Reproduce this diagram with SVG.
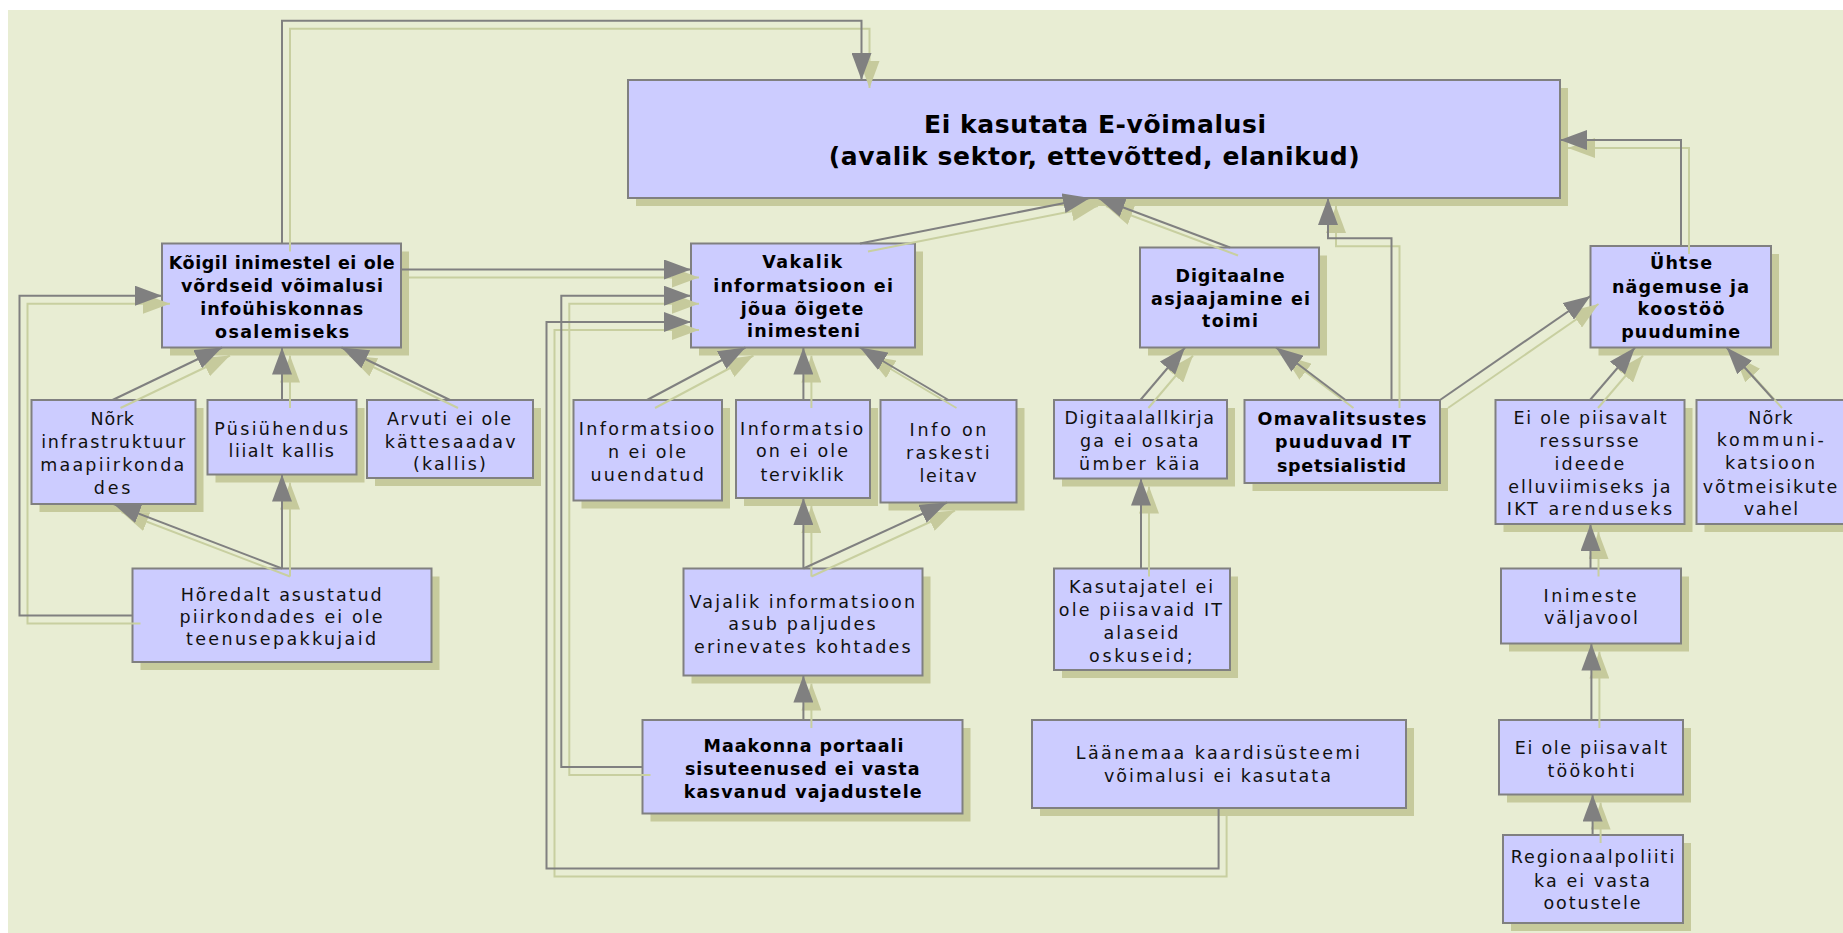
<svg xmlns="http://www.w3.org/2000/svg" width="1843" height="933" viewBox="0 0 1843 933">
<defs>
<style>
.box{fill:#CCCCFF;stroke:#808080;stroke-width:2}
.shd{fill:#C6CA9C}
.t{font-family:"DejaVu Sans","Liberation Sans",sans-serif;font-size:17.5px;fill:#111;text-anchor:middle}
.b{font-family:"DejaVu Sans","Liberation Sans",sans-serif;font-size:17.5px;font-weight:bold;fill:#000;text-anchor:middle}
.ti{font-family:"DejaVu Sans","Liberation Sans",sans-serif;font-size:25px;font-weight:bold;fill:#000;text-anchor:middle}
.c{fill:none;stroke:#808080;stroke-width:2;marker-end:url(#ah)}
.cs{fill:none;stroke:#C8CFA0;stroke-width:2;marker-end:url(#ahs)}
</style>
<marker id="ah" viewBox="0 0 27 20" refX="27" refY="10" markerWidth="27" markerHeight="20" markerUnits="userSpaceOnUse" orient="auto"><path d="M0,0 L27,10 L0,20 z" fill="#808080"/></marker>
<marker id="ahs" viewBox="0 0 27 20" refX="27" refY="10" markerWidth="27" markerHeight="20" markerUnits="userSpaceOnUse" orient="auto"><path d="M0,0 L27,10 L0,20 z" fill="#C6CA9C"/></marker>
</defs>
<rect x="0" y="0" width="1843" height="933" fill="#FFFFFF"/>
<rect x="8" y="10" width="1835" height="923" fill="#E8EDD3"/>

<g id="n-main">
<rect class="shd" x="636" y="88" width="932" height="118"/>
<rect class="box" x="628" y="80" width="932" height="118"/>
<text class="ti" x="1095" y="133" textLength="342" lengthAdjust="spacing">Ei kasutata E-võimalusi</text>
<text class="ti" x="1094.3" y="165" textLength="531" lengthAdjust="spacing">(avalik sektor, ettevõtted, elanikud)</text>
</g>

<g id="n-koigil">
<rect class="shd" x="170" y="251.5" width="239" height="104"/>
<rect class="box" x="162" y="243.5" width="239" height="104"/>
<text class="b" x="281.7" y="269" textLength="226" lengthAdjust="spacing">Kõigil inimestel ei ole</text>
<text class="b" x="281.9" y="292" textLength="202" lengthAdjust="spacing">võrdseid võimalusi</text>
<text class="b" x="281.7" y="315" textLength="163" lengthAdjust="spacing">infoühiskonnas</text>
<text class="b" x="282.1" y="337.5" textLength="134" lengthAdjust="spacing">osalemiseks</text>
</g>

<g id="n-vakalik">
<rect class="shd" x="699" y="251.5" width="224" height="104"/>
<rect class="box" x="691" y="243.5" width="224" height="104"/>
<text class="b" x="802.2" y="268.3" textLength="80" lengthAdjust="spacing">Vakalik</text>
<text class="b" x="803.1" y="291.7" textLength="179.6" lengthAdjust="spacing">informatsioon ei</text>
<text class="b" x="802" y="315" textLength="122.5" lengthAdjust="spacing">jõua õigete</text>
<text class="b" x="803.6" y="337.3" textLength="113" lengthAdjust="spacing">inimesteni</text>
</g>

<g id="n-digitaalne">
<rect class="shd" x="1148" y="255.5" width="179" height="100"/>
<rect class="box" x="1140" y="247.5" width="179" height="100"/>
<text class="b" x="1230" y="281.7" textLength="109" lengthAdjust="spacing">Digitaalne</text>
<text class="b" x="1230.6" y="305" textLength="159" lengthAdjust="spacing">asjaajamine ei</text>
<text class="b" x="1230" y="327.3" textLength="56" lengthAdjust="spacing">toimi</text>
</g>

<g id="n-uhtse">
<rect class="shd" x="1598.5" y="254" width="180.5" height="101.5"/>
<rect class="box" x="1590.5" y="246" width="180.5" height="101.5"/>
<text class="b" x="1681" y="269.3" textLength="62" lengthAdjust="spacing">Ühtse</text>
<text class="b" x="1680.5" y="292.7" textLength="137" lengthAdjust="spacing">nägemuse ja</text>
<text class="b" x="1681" y="315.3" textLength="87" lengthAdjust="spacing">koostöö</text>
<text class="b" x="1680.7" y="338.3" textLength="119" lengthAdjust="spacing">puudumine</text>
</g>

<g id="n-nork-infra">
<rect class="shd" x="39.5" y="408" width="164" height="104"/>
<rect class="box" x="31.5" y="400" width="164" height="104"/>
<text class="t" x="112.3" y="425" textLength="43.4" lengthAdjust="spacing">Nõrk</text>
<text class="t" x="113.2" y="448" textLength="144" lengthAdjust="spacing">infrastruktuur</text>
<text class="t" x="112.2" y="471" textLength="144" lengthAdjust="spacing">maapiirkonda</text>
<text class="t" x="112.1" y="493.6" textLength="36.6" lengthAdjust="spacing">des</text>
</g>

<g id="n-pusi">
<rect class="shd" x="215.5" y="408" width="149" height="74.5"/>
<rect class="box" x="207.5" y="400" width="149" height="74.5"/>
<text class="t" x="281.2" y="434.7" textLength="134" lengthAdjust="spacing">Püsiühendus</text>
<text class="t" x="281.3" y="457" textLength="105.4" lengthAdjust="spacing">liialt kallis</text>
</g>

<g id="n-arvuti">
<rect class="shd" x="375" y="408" width="166" height="78"/>
<rect class="box" x="367" y="400" width="166" height="78"/>
<text class="t" x="449" y="425" textLength="124" lengthAdjust="spacing">Arvuti ei ole</text>
<text class="t" x="450.2" y="447.5" textLength="130.8" lengthAdjust="spacing">kättesaadav</text>
<text class="t" x="449.4" y="470" textLength="72.7" lengthAdjust="spacing">(kallis)</text>
</g>

<g id="n-uuendatud">
<rect class="shd" x="581.5" y="408" width="148.5" height="100.5"/>
<rect class="box" x="573.5" y="400" width="148.5" height="100.5"/>
<text class="t" x="646.5" y="435.4" textLength="135.3" lengthAdjust="spacing">Informatsioo</text>
<text class="t" x="647" y="457.6" textLength="78" lengthAdjust="spacing">n ei ole</text>
<text class="t" x="647.1" y="480.5" textLength="113.4" lengthAdjust="spacing">uuendatud</text>
</g>

<g id="n-terviklik">
<rect class="shd" x="744" y="408" width="134" height="98"/>
<rect class="box" x="736" y="400" width="134" height="98"/>
<text class="t" x="801.6" y="434.7" textLength="123" lengthAdjust="spacing">Informatsio</text>
<text class="t" x="802" y="456.9" textLength="92" lengthAdjust="spacing">on ei ole</text>
<text class="t" x="802" y="480.5" textLength="83" lengthAdjust="spacing">terviklik</text>
</g>

<g id="n-raskesti">
<rect class="shd" x="888.5" y="408" width="136" height="102.5"/>
<rect class="box" x="880.5" y="400" width="136" height="102.5"/>
<text class="t" x="948" y="436.4" textLength="76.8" lengthAdjust="spacing">Info on</text>
<text class="t" x="947.8" y="459.4" textLength="83.5" lengthAdjust="spacing">raskesti</text>
<text class="t" x="948" y="482.3" textLength="57" lengthAdjust="spacing">leitav</text>
</g>

<g id="n-digiallkiri">
<rect class="shd" x="1062" y="408" width="173" height="78.5"/>
<rect class="box" x="1054" y="400" width="173" height="78.5"/>
<text class="t" x="1139.3" y="424" textLength="149.5" lengthAdjust="spacing">Digitaalallkirja</text>
<text class="t" x="1139.3" y="447" textLength="118.5" lengthAdjust="spacing">ga ei osata</text>
<text class="t" x="1139.2" y="470" textLength="120.4" lengthAdjust="spacing">ümber käia</text>
</g>

<g id="n-omav">
<rect class="shd" x="1252.5" y="408" width="195.5" height="83"/>
<rect class="box" x="1244.5" y="400" width="195.5" height="83"/>
<text class="b" x="1342" y="425" textLength="169" lengthAdjust="spacing">Omavalitsustes</text>
<text class="b" x="1343" y="448.3" textLength="136" lengthAdjust="spacing">puuduvad IT</text>
<text class="b" x="1341.5" y="471.7" textLength="129" lengthAdjust="spacing">spetsialistid</text>
</g>

<g id="n-ressursse">
<rect class="shd" x="1503.5" y="408" width="189" height="124"/>
<rect class="box" x="1495.5" y="400" width="189" height="124"/>
<text class="t" x="1590" y="424" textLength="153" lengthAdjust="spacing">Ei ole piisavalt</text>
<text class="t" x="1589" y="446.7" textLength="99" lengthAdjust="spacing">ressursse</text>
<text class="t" x="1589.4" y="469.7" textLength="69.7" lengthAdjust="spacing">ideede</text>
<text class="t" x="1589.4" y="492.7" textLength="162.3" lengthAdjust="spacing">elluviimiseks ja</text>
<text class="t" x="1589.4" y="515.3" textLength="165.5" lengthAdjust="spacing">IKT arenduseks</text>
</g>

<g id="n-nork-komm">
<rect class="shd" x="1704.5" y="408" width="160" height="124"/>
<rect class="box" x="1696.5" y="400" width="160" height="124"/>
<text class="t" x="1770.5" y="423.5" textLength="44.4" lengthAdjust="spacing">Nõrk</text>
<text class="t" x="1770.3" y="446" textLength="107.3" lengthAdjust="spacing">kommuni-</text>
<text class="t" x="1770" y="469.2" textLength="90" lengthAdjust="spacing">katsioon</text>
<text class="t" x="1770" y="492.5" textLength="134.6" lengthAdjust="spacing">võtmeisikute</text>
<text class="t" x="1771" y="515.2" textLength="54.3" lengthAdjust="spacing">vahel</text>
</g>

<g id="n-horedalt">
<rect class="shd" x="140.5" y="576.5" width="299" height="93.5"/>
<rect class="box" x="132.5" y="568.5" width="299" height="93.5"/>
<text class="t" x="281.2" y="600.5" textLength="201" lengthAdjust="spacing">Hõredalt asustatud</text>
<text class="t" x="281" y="623.4" textLength="203" lengthAdjust="spacing">piirkondades ei ole</text>
<text class="t" x="281" y="645" textLength="190" lengthAdjust="spacing">teenusepakkujaid</text>
</g>

<g id="n-vajalik">
<rect class="shd" x="691.5" y="576.5" width="239" height="107"/>
<rect class="box" x="683.5" y="568.5" width="239" height="107"/>
<text class="t" x="802.3" y="607.5" textLength="225.4" lengthAdjust="spacing">Vajalik informatsioon</text>
<text class="t" x="802" y="629.7" textLength="147.3" lengthAdjust="spacing">asub paljudes</text>
<text class="t" x="802.3" y="652.7" textLength="216.5" lengthAdjust="spacing">erinevates kohtades</text>
</g>

<g id="n-kasutajatel">
<rect class="shd" x="1062" y="576.5" width="176" height="101.5"/>
<rect class="box" x="1054" y="568.5" width="176" height="101.5"/>
<text class="t" x="1141.1" y="592.7" textLength="144.2" lengthAdjust="spacing">Kasutajatel ei</text>
<text class="t" x="1140.4" y="615.6" textLength="163.2" lengthAdjust="spacing">ole piisavaid IT</text>
<text class="t" x="1140.9" y="638.6" textLength="75" lengthAdjust="spacing">alaseid</text>
<text class="t" x="1140.9" y="661.5" textLength="103.7" lengthAdjust="spacing">oskuseid;</text>
</g>

<g id="n-inimeste">
<rect class="shd" x="1509" y="576.5" width="180" height="75"/>
<rect class="box" x="1501" y="568.5" width="180" height="75"/>
<text class="t" x="1590" y="601.7" textLength="93" lengthAdjust="spacing">Inimeste</text>
<text class="t" x="1590.9" y="624" textLength="93.7" lengthAdjust="spacing">väljavool</text>
</g>

<g id="n-maakonna">
<rect class="shd" x="650.5" y="728" width="320" height="93.5"/>
<rect class="box" x="642.5" y="720" width="320" height="93.5"/>
<text class="b" x="803.6" y="752" textLength="200" lengthAdjust="spacing">Maakonna portaali</text>
<text class="b" x="802.2" y="775" textLength="234.5" lengthAdjust="spacing">sisuteenused ei vasta</text>
<text class="b" x="802.7" y="798" textLength="238" lengthAdjust="spacing">kasvanud vajadustele</text>
</g>

<g id="n-laanemaa">
<rect class="shd" x="1040" y="728" width="374" height="88"/>
<rect class="box" x="1032" y="720" width="374" height="88"/>
<text class="t" x="1217.8" y="759.2" textLength="284" lengthAdjust="spacing">Läänemaa kaardisüsteemi</text>
<text class="t" x="1217.4" y="782" textLength="227" lengthAdjust="spacing">võimalusi ei kasutata</text>
</g>

<g id="n-tookohti">
<rect class="shd" x="1507" y="728" width="184" height="74.5"/>
<rect class="box" x="1499" y="720" width="184" height="74.5"/>
<text class="t" x="1591" y="754" textLength="152.4" lengthAdjust="spacing">Ei ole piisavalt</text>
<text class="t" x="1591" y="776.7" textLength="87" lengthAdjust="spacing">töökohti</text>
</g>

<g id="n-regionaal">
<rect class="shd" x="1511" y="843" width="180" height="88"/>
<rect class="box" x="1503" y="835" width="180" height="88"/>
<text class="t" x="1592.5" y="863.3" textLength="163.5" lengthAdjust="spacing">Regionaalpoliiti</text>
<text class="t" x="1592" y="886.7" textLength="116" lengthAdjust="spacing">ka ei vasta</text>
<text class="t" x="1592" y="909.3" textLength="97" lengthAdjust="spacing">ootustele</text>
</g>

<g id="connectors">
<g id="connector-shadows" transform="translate(8,8)">
<path class="cs" d="M282,243.5 V20.7 H861.5 V80"/>
<path class="cs" d="M401,269.5 H691"/>
<path class="cs" d="M132.5,615.5 H19.5 V295.7 H162"/>
<path class="cs" d="M112.5,400 L222,347.5"/>
<path class="cs" d="M282,400 V347.5"/>
<path class="cs" d="M450,400 L341.5,347.5"/>
<path class="cs" d="M282,568.5 L113.5,504"/>
<path class="cs" d="M282,568.5 V474.5"/>
<path class="cs" d="M642.5,767 H561.3 V295.7 H691"/>
<path class="cs" d="M1218.6,808 V868.5 H546.5 V322 H691"/>
<path class="cs" d="M647,400 L745.5,347.5"/>
<path class="cs" d="M803.4,400 V347.5"/>
<path class="cs" d="M948.5,400 L860,347.5"/>
<path class="cs" d="M803.4,568.5 V498"/>
<path class="cs" d="M803.4,568.5 L947,502.5"/>
<path class="cs" d="M803.4,720 V675.5"/>
<path class="cs" d="M860,243.5 L1090,198"/>
<path class="cs" d="M1230,247.5 L1098,198"/>
<path class="cs" d="M1391.5,400 V238.3 H1328 V198"/>
<path class="cs" d="M1681,246 V140 H1560"/>
<path class="cs" d="M1440,400 L1590.5,296"/>
<path class="cs" d="M1345.5,400 L1276,347.5"/>
<path class="cs" d="M1140.4,400 L1185,347.5"/>
<path class="cs" d="M1141,568.5 V478.5"/>
<path class="cs" d="M1590,400 L1635,347.5"/>
<path class="cs" d="M1774,400 L1726.6,347.5"/>
<path class="cs" d="M1590.5,568.5 V524"/>
<path class="cs" d="M1591.4,720 V643.5"/>
<path class="cs" d="M1592.6,835 V794.5"/>
</g>
<g id="connector-lines">
<path class="c" d="M282,243.5 V20.7 H861.5 V80"/>
<path class="c" d="M401,269.5 H691"/>
<path class="c" d="M132.5,615.5 H19.5 V295.7 H162"/>
<path class="c" d="M112.5,400 L222,347.5"/>
<path class="c" d="M282,400 V347.5"/>
<path class="c" d="M450,400 L341.5,347.5"/>
<path class="c" d="M282,568.5 L113.5,504"/>
<path class="c" d="M282,568.5 V474.5"/>
<path class="c" d="M642.5,767 H561.3 V295.7 H691"/>
<path class="c" d="M1218.6,808 V868.5 H546.5 V322 H691"/>
<path class="c" d="M647,400 L745.5,347.5"/>
<path class="c" d="M803.4,400 V347.5"/>
<path class="c" d="M948.5,400 L860,347.5"/>
<path class="c" d="M803.4,568.5 V498"/>
<path class="c" d="M803.4,568.5 L947,502.5"/>
<path class="c" d="M803.4,720 V675.5"/>
<path class="c" d="M860,243.5 L1090,198"/>
<path class="c" d="M1230,247.5 L1098,198"/>
<path class="c" d="M1391.5,400 V238.3 H1328 V198"/>
<path class="c" d="M1681,246 V140 H1560"/>
<path class="c" d="M1440,400 L1590.5,296"/>
<path class="c" d="M1345.5,400 L1276,347.5"/>
<path class="c" d="M1140.4,400 L1185,347.5"/>
<path class="c" d="M1141,568.5 V478.5"/>
<path class="c" d="M1590,400 L1635,347.5"/>
<path class="c" d="M1774,400 L1726.6,347.5"/>
<path class="c" d="M1590.5,568.5 V524"/>
<path class="c" d="M1591.4,720 V643.5"/>
<path class="c" d="M1592.6,835 V794.5"/>
</g>
</g>
</svg>
